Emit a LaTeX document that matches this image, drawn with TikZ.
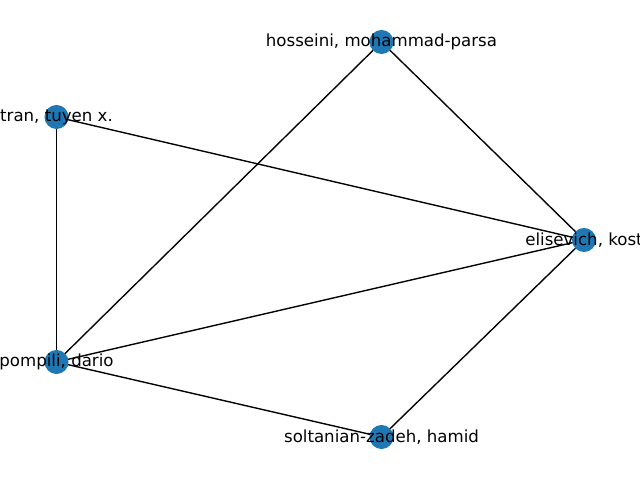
\documentclass[tikz,border=0pt]{standalone}
\usepackage{fontspec}
\setmainfont{DejaVu Sans}
\usetikzlibrary{backgrounds}
\definecolor{nodeblue}{HTML}{1F77B4}
\tikzset{
    author/.style={circle,fill=nodeblue,minimum size=0.24in,inner sep=0pt},
    authorname/.style={font=\fontsize{12}{14}\selectfont,inner sep=0pt},
    coauthor/.style={black,line width=1pt}
}

\begin{document}
\begin{tikzpicture}[x=0.01in,y=-0.01in]
    \useasboundingbox (0,0) rectangle (640,480);
    \clip (0,0) rectangle (640,480);
    % authors
    \node[author] (hosseini) at (381.5,42) {};
    \node[author] (tran) at (56.5,117) {};
    \node[author] (elisevich) at (584,240) {};
    \node[author] (pompili) at (56.5,362) {};
    \node[author] (soltanian) at (381.5,437) {};
    % co-authorships
    \begin{scope}[on background layer]
        \draw[coauthor] (hosseini.center) -- (elisevich.center);
        \draw[coauthor] (hosseini.center) -- (pompili.center);
        \draw[coauthor] (tran.center) -- (elisevich.center);
        \draw[coauthor] (tran.center) -- (pompili.center);
        \draw[coauthor] (pompili.center) -- (elisevich.center);
        \draw[coauthor] (pompili.center) -- (soltanian.center);
        \draw[coauthor] (soltanian.center) -- (elisevich.center);
    \end{scope}
    % names
    \node[authorname] (hosseiniName) at (hosseini) {hosseini, mohammad-parsa};
    \node[authorname] (tranName) at (tran) {tran, tuyen x.};
    \node[authorname] (elisevichName) at (elisevich) {elisevich, kost};
    \node[authorname] (pompiliName) at (pompili) {pompili, dario};
    \node[authorname] (soltanianName) at (soltanian) {soltanian-zadeh, hamid};
\end{tikzpicture}
\end{document}
